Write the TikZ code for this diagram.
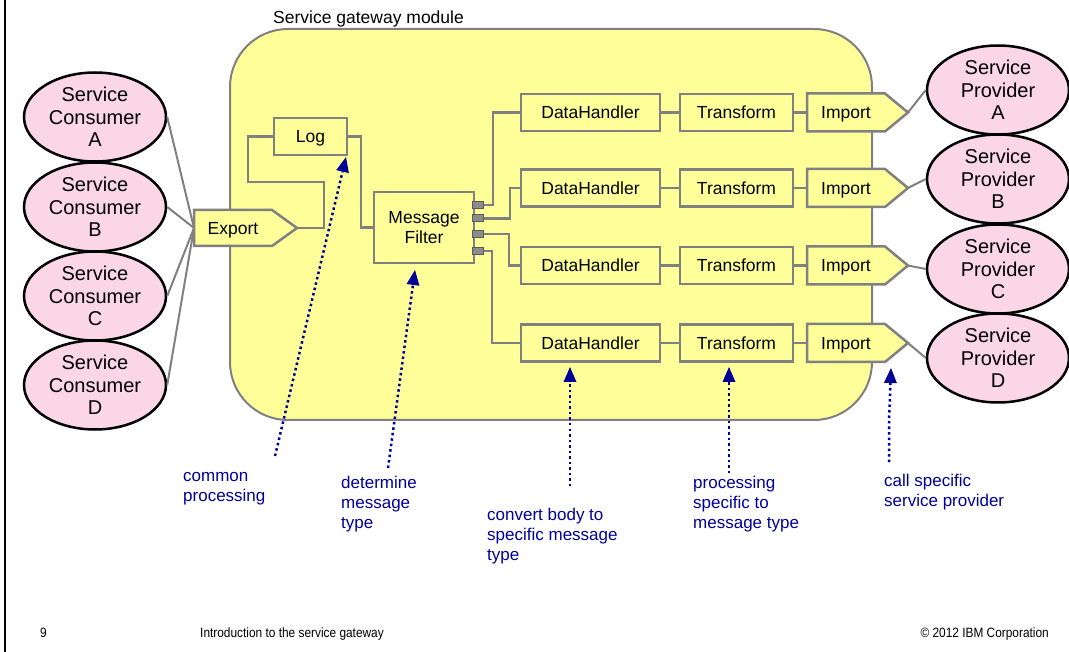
\documentclass[tikz,border=0pt]{standalone}
\usepackage{fontspec}
\setmainfont{Liberation Sans}
\newfontfamily\footfont[FakeStretch=0.88]{Liberation Sans}
\usetikzlibrary{shapes.geometric,arrows.meta}
\definecolor{modfill}{RGB}{255,255,153}
\definecolor{wiregray}{RGB}{128,128,128}
\definecolor{portgray}{RGB}{140,140,140}
\definecolor{svcpink}{RGB}{250,214,230}
\definecolor{notesblue}{RGB}{0,0,153}
\tikzset{
  module/.style={draw=wiregray, fill=modfill, line width=2pt, rounded corners=58pt,
    minimum width=642pt, minimum height=391pt, inner sep=0pt},
  box/.style={draw=wiregray, fill=modfill, line width=2.5pt, inner sep=0pt,
    font=\fontsize{17.5}{20}\selectfont, align=center},
  oneline/.style={text height=12.5pt, text depth=0pt},
  pentagon/.style={draw=wiregray, fill=modfill, line width=2.5pt, line join=miter},
  boxtext/.style={inner sep=0pt, font=\fontsize{17.5}{20}\selectfont, oneline},
  port/.style={draw=wiregray!70!black, fill=portgray, line width=1pt, inner sep=0pt,
    minimum width=11pt, minimum height=7pt},
  wire/.style={draw=wiregray, line width=2.5pt},
  link/.style={draw=wiregray, line width=2pt},
  svc/.style={ellipse, draw=black, fill=svcpink, line width=2.5pt, inner sep=0pt,
    minimum width=142pt, minimum height=89pt},
  svctext/.style={inner sep=0pt, align=center, font=\fontsize{20}{22.5}\selectfont},
  note/.style={draw=notesblue, line width=2.5pt, dash pattern=on 2.5pt off 3pt,
    -{Triangle[width=13pt,length=15pt,fill=notesblue,line width=0pt]}},
  notetext/.style={inner sep=0pt, align=left, anchor=north west, text=notesblue,
    font=\fontsize{17}{20}\selectfont},
  foot/.style={inner sep=0pt, font=\footfont\fontsize{13.5}{15}\selectfont}
}
\begin{document}
\begin{tikzpicture}[x=1pt,y=-1pt]
\useasboundingbox (0,0) rectangle (1069,652);
% slide edge
\draw[black, line width=1.4pt] (5,0) -- (5,652);

% module container
\node[module] (module) at (551,224.5) {};
\node[inner sep=0pt, anchor=base west, font=\fontsize{17.5}{20}\selectfont] (title) at (273,24) {Service gateway module};

% consumers
\foreach \r/\y in {A/117,B/207,C/296,D/385}{
  \node[svc] (cons\r) at (95,\y) {};
  \node[svctext] (consl\r) at (cons\r) {Service\\Consumer\\\r};
}

% providers
\foreach \r/\y in {A/90,B/179,C/269,D/358}{
  \node[svc] (prov\r) at (998,\y) {};
  \node[svctext] (provl\r) at (prov\r) {Service\\Provider\\\r};
}

% export
\draw[pentagon] (194,210) -- (272,210) -- (297,228) coordinate (exptip) -- (272,246) -- (194,246) -- cycle;
\coordinate (expin) at (194,228);
\node[boxtext] (export) at (233,228) {Export};
\foreach \r in {A,B,C,D}{ \draw[link] (cons\r.east) -- (expin); }

% log and message filter
\node[box, oneline, minimum width=73pt, minimum height=37pt] (log) at (310.5,136.5) {Log};
\node[box, minimum width=100pt, minimum height=71pt] (mf) at (424,227.5) {Message\\Filter};
\draw[wire] (exptip) -- (324,228) -- (324,182) -- (248,182) |- (log.west);
\draw[wire] (log.east) -- (361,136.5) |- (mf.west);

% output ports of the filter
\node[port] (p1) at (477.5,205) {};
\node[port] (p2) at (477.5,218.5) {};
\node[port] (p3) at (477.5,234) {};
\node[port] (p4) at (477.5,251) {};

% processing rows
\foreach \r/\y in {A/112.5,B/188,C/265.5,D/343}{
  \node[box, oneline, minimum width=139pt, minimum height=37pt] (dh\r) at (590.5,\y) {DataHandler};
  \node[box, oneline, minimum width=113pt, minimum height=37pt] (tr\r) at (736.5,\y) {Transform};
  \draw[pentagon] (807,\y-19) -- (885,\y-19) -- (908,\y) coordinate (imtip\r)
    -- (885,\y+19) -- (807,\y+19) -- cycle;
  \coordinate (imin\r) at (807,\y);
  \node[boxtext] (im\r) at (846,\y) {Import};
  \draw[wire] (dh\r.east) -- (tr\r.west);
  \draw[wire] (tr\r.east) -- (imin\r);
  \draw[link] (imtip\r) -- (prov\r.west);
}

\draw[wire] (p1.east) -- (493,205) |- (dhA.west);
\draw[wire] (p2.east) -- (510,218.5) |- (dhB.west);
\draw[wire] (p3.east) -- (509,234) |- (dhC.west);
\draw[wire] (p4.east) -- (492,251) |- (dhD.west);

% annotations
\coordinate (n1s) at (275,456);  \coordinate (n1e) at (346,157);
\coordinate (n2s) at (388,468);  \coordinate (n2e) at (415,270);
\coordinate (n3s) at (570,486);  \coordinate (n3e) at (570,367);
\coordinate (n4s) at (729,473);  \coordinate (n4e) at (729,367);
\coordinate (n5s) at (889,462);  \coordinate (n5e) at (891,368);
\draw[note] (n1s) -- (n1e);
\draw[note] (n2s) -- (n2e);
\draw[note] (n3s) -- (n3e);
\draw[note] (n4s) -- (n4e);
\draw[note] (n5s) -- (889,422) -- (n5e);

\node[notetext] (t1) at (183,472) {common\\processing};
\node[notetext] (t2) at (341,476) {determine\\message\\type};
\node[notetext] (t3) at (487,508) {convert body to\\specific message\\type};
\node[notetext] (t4) at (693,476) {processing\\specific to\\message type};
\node[notetext] (t5) at (884,474) {call specific\\service provider};

% footer
\node[foot, anchor=base west] (pg) at (40,637) {9};
\node[foot, anchor=base west] (ft) at (200,637) {Introduction to the service gateway};
\node[foot, anchor=base east] (cp) at (1049,637) {\textcopyright\ 2012 IBM Corporation};
\end{tikzpicture}
\end{document}
